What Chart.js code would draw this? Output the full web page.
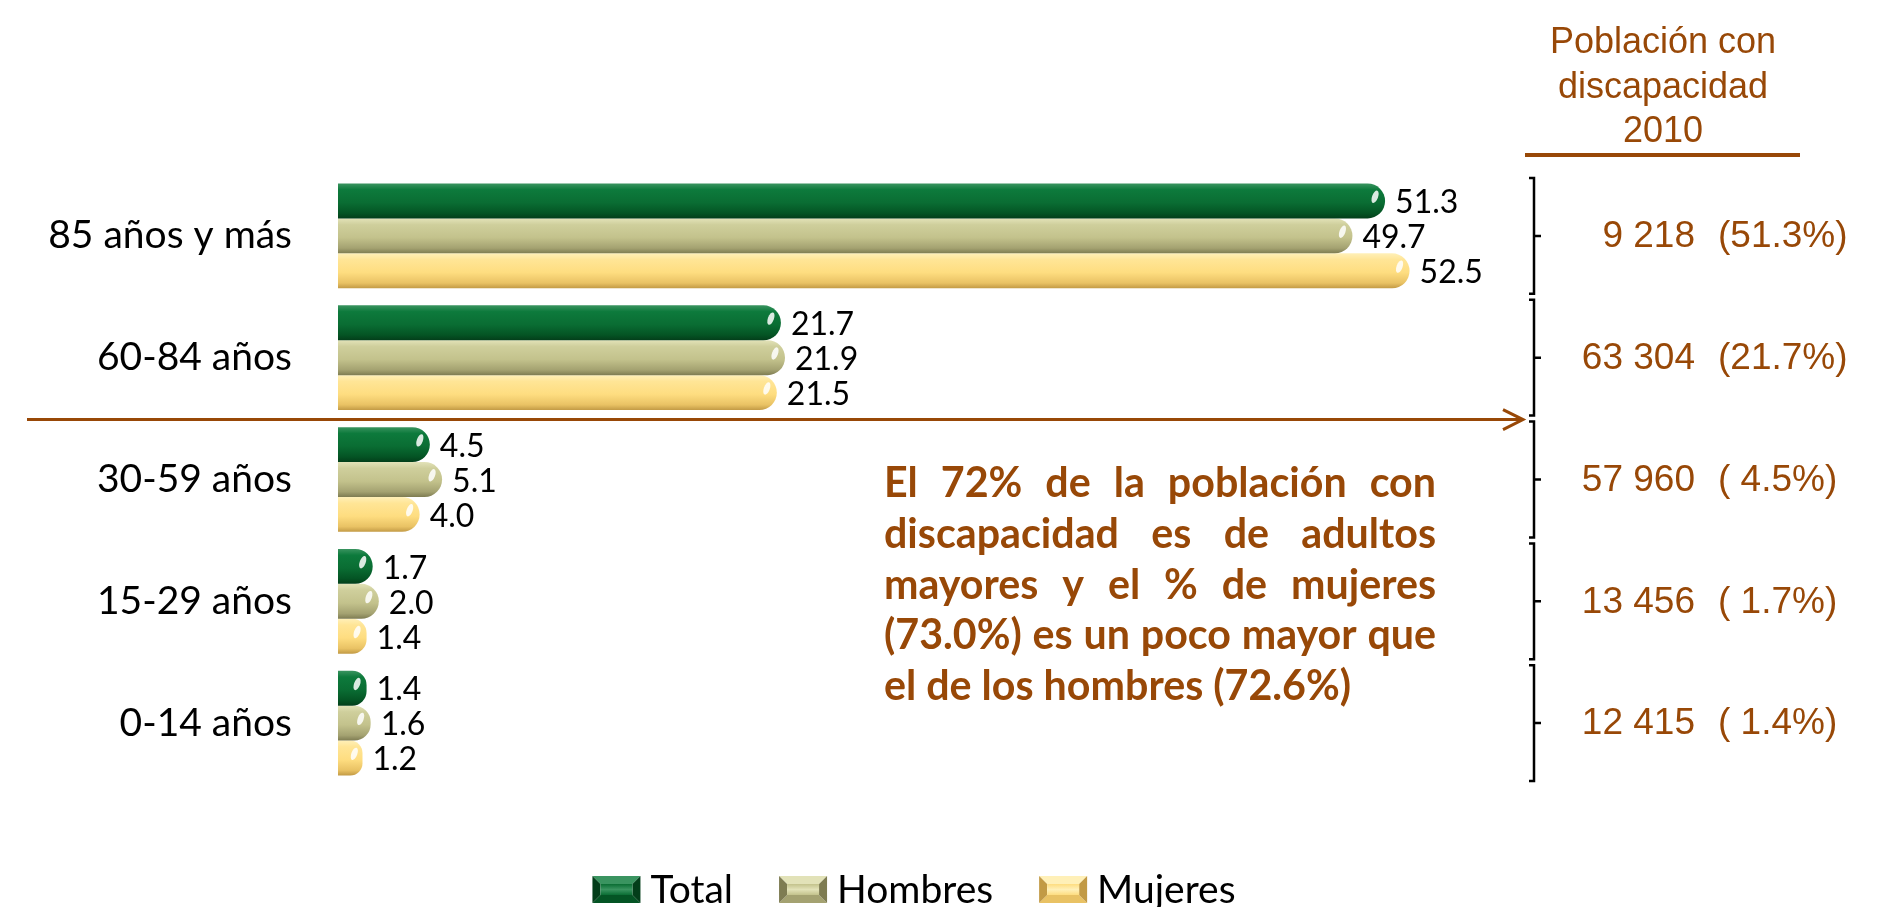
<!DOCTYPE html>
<html>
<head>
<meta charset="utf-8">
<script src="https://cdn.jsdelivr.net/npm/chart.js@4.4.0/dist/chart.umd.min.js"></script>
<style>
  html, body { margin: 0; padding: 0; background: #fff; }
  #wrap { width: 1898px; height: 907px; position: relative; }
</style>
</head>
<body>
<div id="wrap"><canvas id="chart" width="1898" height="907"></canvas></div>
<script>
const categories  = ['85 años y más', '60-84 años', '30-59 años', '15-29 años', '0-14 años'];
const seriesNames = ['Total', 'Hombres', 'Mujeres'];
const total       = [51.3, 21.7, 4.5, 1.7, 1.4];
const hombres     = [49.7, 21.9, 5.1, 2.0, 1.6];
const mujeres     = [52.5, 21.5, 4.0, 1.4, 1.2];
const poblacion   = [9218, 63304, 57960, 13456, 12415];
const headerLines = ['Población con', 'discapacidad', '2010'];
const noteLines   = [
  'El 72% de la población con',
  'discapacidad es de adultos',
  'mayores y el % de mujeres',
  '(73.0%) es un poco mayor que',
  'el de los hombres (72.6%)'
];

const BROWN = '#984807';

const shades = [
  [[0, '#3a9460'], [0.18, '#0d7a3c'], [0.55, '#0a6d33'], [0.85, '#045424'], [1, '#033e1a']],
  [[0, '#e2e2b8'], [0.18, '#cfcf9c'], [0.55, '#c3c28c'], [0.85, '#a4a271'], [1, '#7e7c52']],
  [[0, '#fff0b8'], [0.18, '#ffe596'], [0.55, '#fedd80'], [0.85, '#e9c264'], [1, '#c29a45']]
];

function barFill(stops) {
  return (c) => {
    const chart = c.chart;
    const ys = chart.scales.y;
    if (!chart.chartArea || !ys || c.type !== 'data') return stops[2][1];
    const band = (ys.height / categories.length) * 0.86;
    const th = band / 3;
    const top = ys.getPixelForValue(c.dataIndex) - band / 2 + c.datasetIndex * th;
    const g = chart.ctx.createLinearGradient(0, top, 0, top + th);
    stops.forEach(([o, col]) => g.addColorStop(o, col));
    return g;
  };
}

function fmtNum(n) {
  return String(n).replace(/\B(?=(\d{3})+(?!\d))/g, ' ');
}
function fmtPct(p) {
  return '(' + (p < 10 ? ' ' : '') + p.toFixed(1) + '%)';
}

function drawJustified(ctx, text, x, y, width) {
  const words = text.split(' ');
  const wsum = words.reduce((s, w) => s + ctx.measureText(w).width, 0);
  const gap = (width - wsum) / (words.length - 1);
  let cx = x;
  words.forEach(w => {
    ctx.fillText(w, cx, y);
    cx += ctx.measureText(w).width + gap;
  });
}

function quad(ctx, pts, fill) {
  ctx.fillStyle = fill;
  ctx.beginPath();
  ctx.moveTo(pts[0], pts[1]);
  for (let i = 2; i < pts.length; i += 2) ctx.lineTo(pts[i], pts[i + 1]);
  ctx.closePath();
  ctx.fill();
}

const overlay = {
  id: 'overlay',
  afterDatasetsDraw(chart) {
    const ctx = chart.ctx;
    chart.data.datasets.forEach((ds, di) => {
      const meta = chart.getDatasetMeta(di);
      meta.data.forEach((bar, i) => {
        const h = bar.height;
        const len = bar.x - bar.base;
        ctx.save();
        ctx.fillStyle = 'rgba(255,255,255,0.85)';
        ctx.beginPath();
        ctx.ellipse(bar.x - Math.min(10, len / 3), bar.y - h * 0.12, 3, 6.5, 0.35, 0, Math.PI * 2);
        ctx.fill();
        ctx.fillStyle = '#000';
        ctx.font = '32px Lato';
        ctx.textBaseline = 'middle';
        ctx.textAlign = 'left';
        ctx.fillText(ds.data[i].toFixed(1), bar.x + 10, bar.y + 2);
        ctx.restore();
      });
    });
  },
  afterDraw(chart) {
    const ctx = chart.ctx;
    const ys = chart.scales.y;
    const band = ys.height / categories.length;
    ctx.save();

    // header of right column
    ctx.fillStyle = BROWN;
    ctx.font = '36px "Liberation Sans", Arial, sans-serif';
    ctx.textAlign = 'center';
    ctx.textBaseline = 'alphabetic';
    headerLines.forEach((t, k) => ctx.fillText(t, 1663, 53 + k * 44.5));
    ctx.fillRect(1525, 153, 275, 4);

    // brackets and population values
    categories.forEach((c, i) => {
      const cy = ys.getPixelForValue(i);
      const t = cy - band / 2 + 3, b = cy + band / 2 - 3;
      ctx.strokeStyle = '#000';
      ctx.lineWidth = 2.5;
      ctx.beginPath();
      ctx.moveTo(1529, t); ctx.lineTo(1534, t); ctx.lineTo(1534, b); ctx.lineTo(1529, b);
      ctx.moveTo(1534, cy); ctx.lineTo(1541, cy);
      ctx.stroke();

      ctx.fillStyle = BROWN;
      ctx.font = '37px "Liberation Sans", Arial, sans-serif';
      ctx.textBaseline = 'middle';
      ctx.textAlign = 'right';
      ctx.fillText(fmtNum(poblacion[i]), 1695, cy + 1);
      ctx.textAlign = 'left';
      ctx.fillText(fmtPct(total[i]), 1718, cy + 1);
    });

    // arrow between 60-84 and 30-59
    const ay = (ys.getPixelForValue(1) + ys.getPixelForValue(2)) / 2 + 1;
    ctx.strokeStyle = BROWN;
    ctx.lineWidth = 3;
    ctx.beginPath();
    ctx.moveTo(27, ay); ctx.lineTo(1522, ay);
    ctx.moveTo(1503, ay - 10); ctx.lineTo(1523, ay); ctx.lineTo(1503, ay + 10);
    ctx.stroke();

    // note text
    ctx.fillStyle = BROWN;
    ctx.textBaseline = 'alphabetic';
    ctx.textAlign = 'left';
    ctx.font = 'bold 40px Lato';
    const natural = ctx.measureText(noteLines[3]).width;
    const fs = Math.min(42, 40 * 548 / natural);
    ctx.font = 'bold ' + fs.toFixed(1) + 'px Lato';
    noteLines.forEach((line, k) => {
      const y = 497 + k * 50.8;
      if (k < noteLines.length - 1) drawJustified(ctx, line, 884, y, 552);
      else ctx.fillText(line, 884, y);
    });

    // legend with bevelled boxes
    ctx.font = '39px Lato';
    const gapItem = 46, boxW = 48, boxH = 27, txtGap = 10, bev = 8;
    const widths = seriesNames.map(n => boxW + txtGap + ctx.measureText(n).width);
    const full = widths.reduce((a, b) => a + b, 0) + gapItem * (seriesNames.length - 1);
    let lx = 914 - full / 2;
    seriesNames.forEach((n, k) => {
      const s = shades[k];
      const top = 876, r = lx + boxW, b = top + boxH;
      quad(ctx, [lx, top, r, top, r - bev, top + bev, lx + bev, top + bev], s[0][1]);
      quad(ctx, [lx, b, r, b, r - bev, b - bev, lx + bev, b - bev], s[3][1]);
      quad(ctx, [lx, top, lx + bev, top + bev, lx + bev, b - bev, lx, b], s[4][1]);
      quad(ctx, [r, top, r - bev, top + bev, r - bev, b - bev, r, b], s[4][1]);
      const g = ctx.createLinearGradient(0, top + bev, 0, b - bev);
      g.addColorStop(0, s[2][1]);
      g.addColorStop(0.5, s[0][1]);
      g.addColorStop(1, s[2][1]);
      ctx.fillStyle = g;
      ctx.fillRect(lx + bev, top + bev, boxW - 2 * bev, boxH - 2 * bev);
      ctx.fillStyle = '#000';
      ctx.fillText(n, lx + boxW + txtGap, 903);
      lx += widths[k] + gapItem;
    });
    ctx.restore();
  }
};

const seriesData = [total, hombres, mujeres];

new Chart(document.getElementById('chart'), {
  type: 'bar',
  data: {
    labels: categories,
    datasets: seriesNames.map((name, k) => ({
      label: name,
      data: seriesData[k],
      backgroundColor: barFill(shades[k]),
      borderWidth: 0,
      borderRadius: 20,
      borderSkipped: 'start',
      categoryPercentage: 0.86,
      barPercentage: 1.0
    }))
  },
  options: {
    indexAxis: 'y',
    responsive: false,
    animation: false,
    layout: { padding: { left: 0, right: 70, top: 175, bottom: 123 } },
    plugins: {
      legend: { display: false },
      tooltip: { enabled: false }
    },
    scales: {
      x: { display: false, min: 0, max: 73 },
      y: {
        grid: { display: false, drawTicks: false },
        border: { display: false },
        ticks: { font: { family: 'Lato', size: 39 }, color: '#000', padding: 46 },
        afterFit(scale) { scale.width = 338; }
      }
    }
  },
  plugins: [overlay]
});
</script>
</body>
</html>
